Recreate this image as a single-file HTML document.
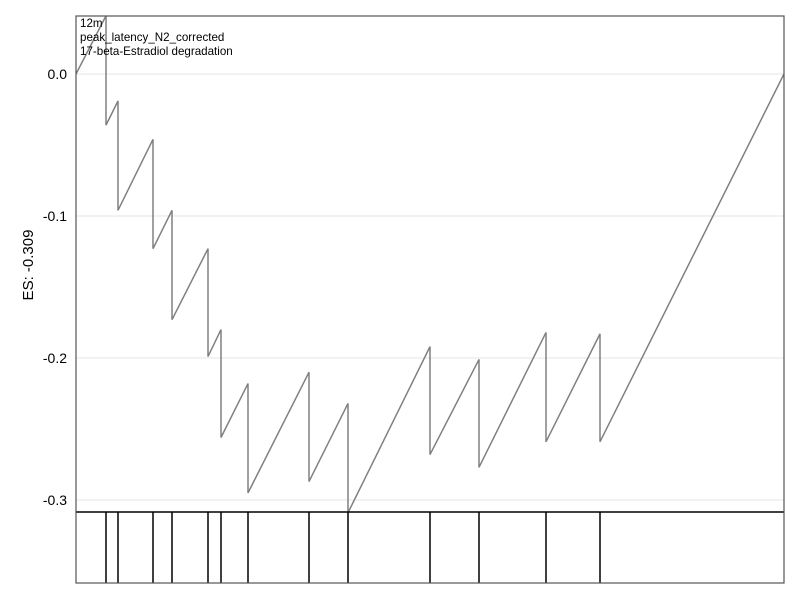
<!DOCTYPE html>
<html><head><meta charset="utf-8"><style>
body{margin:0;background:#fff}
svg text{font-family:"Liberation Sans",sans-serif}
</style></head><body>
<svg id="c" width="800" height="600" xmlns="http://www.w3.org/2000/svg"></svg>
<script>
const hitRanks=[106,118,153,172,208,221,248,309,348,430,479,546,600];
const peakVals=[0.041,-0.019,-0.046,-0.096,-0.123,-0.180,-0.218,-0.210,-0.232,-0.192,-0.201,-0.182,-0.183];
const troughVals=[-0.036,-0.096,-0.123,-0.173,-0.199,-0.256,-0.295,-0.287,-0.309,-0.268,-0.277,-0.259,-0.259];
const yTicks=[0.0,-0.1,-0.2,-0.3];
const yTickLabels=["0.0","-0.1","-0.2","-0.3"];
const labels=["12m","peak_latency_N2_corrected","17-beta-Estradiol degradation"];
const esLabel="ES: -0.309";
const rankMin=76,rankMax=784;

const L=76,R=784,T=16,B=583,MID=512;
const sx=v=>L+(v-rankMin)/(rankMax-rankMin)*(R-L);
const sy=v=>74-v*1420;
const svg=document.getElementById('c');
const NS='http://www.w3.org/2000/svg';
function mk(t,a,p){const e=document.createElementNS(NS,t);for(const k in a)e.setAttribute(k,a[k]);(p||svg).appendChild(e);return e;}

const defs=mk('defs',{});
const cp=mk('clipPath',{id:'clip'},defs);
mk('rect',{x:L,y:T,width:R-L,height:MID-T},cp);

yTicks.forEach((v,i)=>{
 const g=mk('line',{x1:L,x2:R,y1:sy(v),y2:sy(v),stroke:'#e6e6e6','stroke-width':1});
 
 
 const t=mk('text',{x:L-9,y:sy(v)+5,'text-anchor':'end','font-size':14,fill:'#000'});
 t.textContent=yTickLabels[i];
 
 
});

let pts=[[sx(rankMin),sy(0)]];
hitRanks.forEach((r,i)=>{pts.push([sx(r),sy(peakVals[i])]);pts.push([sx(r),sy(troughVals[i])]);});
pts.push([sx(rankMax),sy(0)]);
const line=mk('polyline',{points:pts.map(p=>p.join(',')).join(' '),fill:'none',stroke:'#808080','stroke-width':1.5,'clip-path':'url(#clip)'});



hitRanks.forEach(r=>{
 const h=mk('line',{x1:sx(r),x2:sx(r),y1:MID,y2:B,stroke:'#000','stroke-width':1.5});
 
 
});
const sep=mk('line',{x1:L,x2:R,y1:MID,y2:MID,stroke:'#000','stroke-width':1.5});


const fr=mk('rect',{x:L,y:T,width:R-L,height:B-T,fill:'none',stroke:'#555','stroke-width':1.2});



labels.forEach((s,i)=>{
 const t=mk('text',{x:80,y:27+i*14,'font-size':11.6,fill:'#000'});
 t.textContent=s;
 
 
});
const yl=mk('text',{x:0,y:0,transform:'translate(33,265) rotate(-90)','text-anchor':'middle','font-size':15,fill:'#000'});
yl.textContent=esLabel;


</script>
</body></html>
